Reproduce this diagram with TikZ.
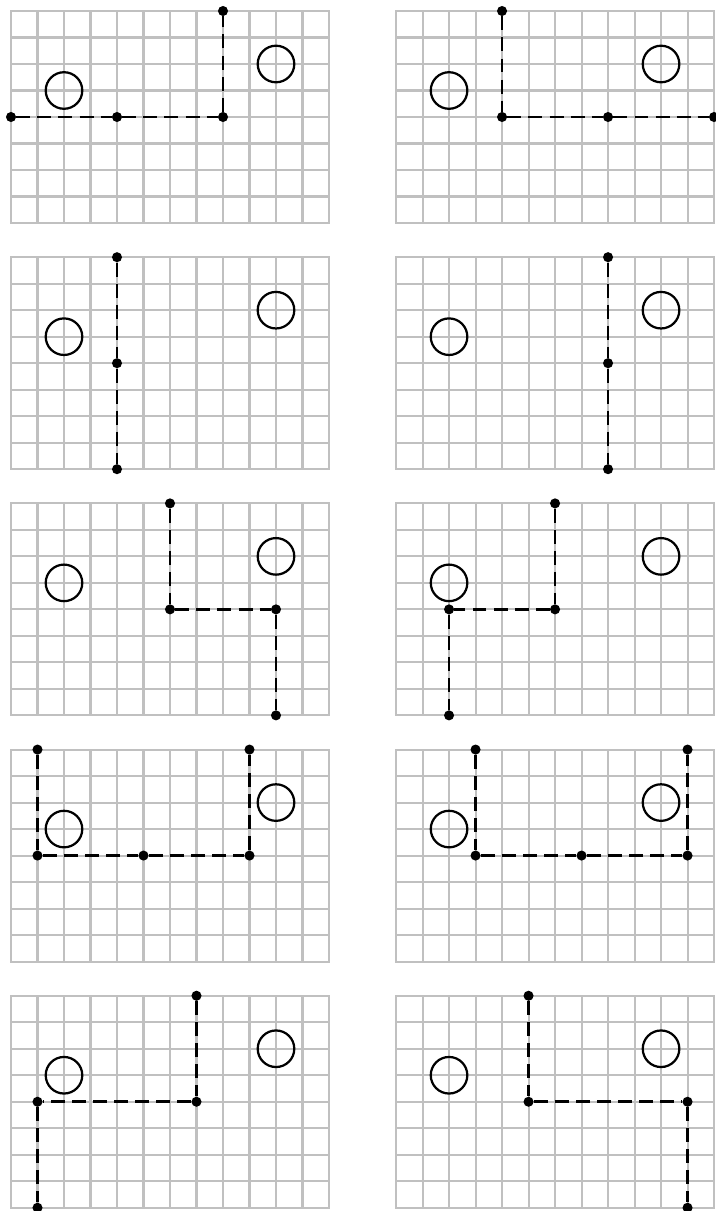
\documentclass[tikz,border=0pt]{standalone}
\definecolor{gridgray}{RGB}{192,192,192}

\begin{document}
\begin{tikzpicture}[x=0.5cm, y=-0.5cm,
  gridline/.style={draw=gridgray, line width=1.1pt},
  ring/.style={draw=black, line width=1.2pt},
  route/.style={draw=black, line width=1.5pt, dash pattern=on 7.5pt off 3.8pt},
  waypt/.style={circle, fill=black, inner sep=0pt, minimum size=5.4pt},
  board/.pic={
    \draw[gridline] (0,0) rectangle (12,8);
    \foreach \i in {1,...,11} \draw[gridline] (\i,0) -- (\i,8);
    \foreach \j in {1,...,7} \draw[gridline] (0,\j) -- (12,\j);
    \draw[ring] (2,3) circle (0.69);
    \draw[ring] (10,2) circle (0.69);
  }
]
\useasboundingbox (-0.415,-0.415) rectangle (26.566,45.283);

% ================= ROW 1 =================
\begin{scope}
  \pic at (0,0) {board};
  \node[waypt] (p1a) at (0,4) {};
  \node[waypt] (p1b) at (4,4) {};
  \node[waypt] (p1c) at (8,4) {};
  \node[waypt] (p1d) at (8,0) {};
  \draw[route] (p1a) -- (p1b) -- (p1c) -- (p1d);
\end{scope}
\begin{scope}[shift={(14.53,0)}]
  \pic at (0,0) {board};
  \node[waypt] (p2a) at (4,0) {};
  \node[waypt] (p2b) at (4,4) {};
  \node[waypt] (p2c) at (8,4) {};
  \node[waypt] (p2d) at (12,4) {};
  \draw[route] (p2a) -- (p2b) -- (p2c) -- (p2d);
\end{scope}

% ================= ROW 2 =================
\begin{scope}[shift={(0,9.29)}]
  \pic at (0,0) {board};
  \node[waypt] (p3a) at (4,0) {};
  \node[waypt] (p3b) at (4,4) {};
  \node[waypt] (p3c) at (4,8) {};
  \draw[route] (p3a) -- (p3b) -- (p3c);
\end{scope}
\begin{scope}[shift={(14.53,9.29)}]
  \pic at (0,0) {board};
  \node[waypt] (p4a) at (8,0) {};
  \node[waypt] (p4b) at (8,4) {};
  \node[waypt] (p4c) at (8,8) {};
  \draw[route] (p4a) -- (p4b) -- (p4c);
\end{scope}

% ================= ROW 3 =================
\begin{scope}[shift={(0,18.58)}]
  \pic at (0,0) {board};
  \node[waypt] (p5a) at (6,0) {};
  \node[waypt] (p5b) at (6,4) {};
  \node[waypt] (p5c) at (10,4) {};
  \node[waypt] (p5d) at (10,8) {};
  \draw[route] (p5a) -- (p5b) -- (p5c) -- (p5d);
\end{scope}
\begin{scope}[shift={(14.53,18.58)}]
  \pic at (0,0) {board};
  \node[waypt] (p6a) at (6,0) {};
  \node[waypt] (p6b) at (6,4) {};
  \node[waypt] (p6c) at (2,4) {};
  \node[waypt] (p6d) at (2,8) {};
  \draw[route] (p6a) -- (p6b) -- (p6c) -- (p6d);
\end{scope}

% ================= ROW 4 =================
\begin{scope}[shift={(0,27.87)}]
  \pic at (0,0) {board};
  \node[waypt] (p7a) at (1,0) {};
  \node[waypt] (p7b) at (1,4) {};
  \node[waypt] (p7c) at (5,4) {};
  \node[waypt] (p7d) at (9,4) {};
  \node[waypt] (p7e) at (9,0) {};
  \draw[route] (p7a) -- (p7b) -- (p7c) -- (p7d) -- (p7e);
\end{scope}
\begin{scope}[shift={(14.53,27.87)}]
  \pic at (0,0) {board};
  \node[waypt] (p8a) at (3,0) {};
  \node[waypt] (p8b) at (3,4) {};
  \node[waypt] (p8c) at (7,4) {};
  \node[waypt] (p8d) at (11,4) {};
  \node[waypt] (p8e) at (11,0) {};
  \draw[route] (p8a) -- (p8b) -- (p8c) -- (p8d) -- (p8e);
\end{scope}

% ================= ROW 5 =================
\begin{scope}[shift={(0,37.16)}]
  \pic at (0,0) {board};
  \node[waypt] (p9a) at (7,0) {};
  \node[waypt] (p9b) at (7,4) {};
  \node[waypt] (p9c) at (1,4) {};
  \node[waypt] (p9d) at (1,8) {};
  \draw[route] (p9a) -- (p9b) -- (p9c) -- (p9d);
\end{scope}
\begin{scope}[shift={(14.53,37.16)}]
  \pic at (0,0) {board};
  \node[waypt] (p10a) at (5,0) {};
  \node[waypt] (p10b) at (5,4) {};
  \node[waypt] (p10c) at (11,4) {};
  \node[waypt] (p10d) at (11,8) {};
  \draw[route] (p10a) -- (p10b) -- (p10c) -- (p10d);
\end{scope}
\end{tikzpicture}
\end{document}
